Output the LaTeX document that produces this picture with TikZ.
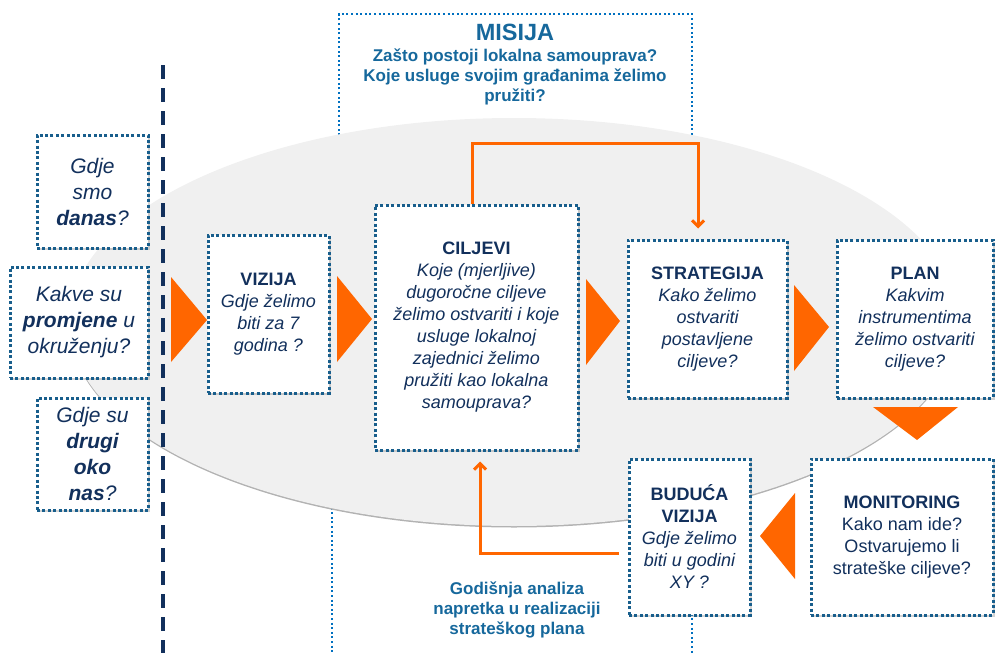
\documentclass[tikz,border=0pt]{standalone}
\usepackage{fontspec}
\setmainfont{Liberation Sans}
\usetikzlibrary{shadows,arrows.meta,calc}
\definecolor{navy}{RGB}{18,48,92}
\definecolor{dotblue}{RGB}{24,94,140}
\definecolor{misblue}{RGB}{0,112,192}
\definecolor{mistext}{RGB}{22,104,156}
\definecolor{orng}{RGB}{255,102,0}
\definecolor{ellgray}{RGB}{240,240,240}
\begin{document}
\begin{tikzpicture}[x=1pt,y=-1pt,
  qbox/.style={draw=dotblue, line width=3pt, dash pattern=on 3pt off 2.4pt,
    fill=white, align=center, text=navy, inner sep=1pt,
    font=\fontsize{18}{22}\selectfont,
    drop shadow={shadow xshift=1.5pt, shadow yshift=-2pt, opacity=0.35}},
  lbox/.style={qbox, font=\fontsize{21}{26}\selectfont\itshape},
  misframe/.style={draw=misblue, line width=2pt, dash pattern=on 2pt off 2.6pt},
  conn/.style={draw=orng, line width=3pt, -{Straight Barb[length=6pt,width=12pt]}},
  tri/.style={fill=orng},
  ttl/.style={text=mistext, font=\bfseries, align=center}
]
\useasboundingbox (0,0) rectangle (995,653);

% mission frame
\draw[misframe] (339,140) -- (339,14) -- (692,14) -- (692,140);
\draw[misframe] (332,480) -- (332,653);
\draw[misframe] (692,600) -- (692,653);

% background ellipse
\fill[black!30] (514,323.5) ellipse [x radius=445, y radius=204];
\fill[ellgray] (514,322) ellipse [x radius=445, y radius=204];

% mission text
\node[ttl, font=\fontsize{23.5}{26}\selectfont\bfseries] (mis) at (515,32) {MISIJA};
\node[ttl, font=\fontsize{17}{20}\selectfont\bfseries] (mist) at (515,77)
  {Zašto postoji lokalna samouprava?\\Koje usluge svojim građanima želimo\\pružiti?};

% dashed divider
\coordinate (dtop) at (163,65);
\coordinate (dbot) at (163,653);
\draw[navy, line width=3.2pt, dash pattern=on 14pt off 9pt] (dtop) -- (dbot);

% left question boxes
\node[lbox, minimum width=111, minimum height=113] (smo) at (92.5,191.5)
  {Gdje\\smo\\\textbf{danas}?};
\node[lbox, minimum width=138, minimum height=111] (kak) at (79,322.5)
  {Kakve su\\\textbf{promjene} u\\okruženju?};
\node[lbox, minimum width=111, minimum height=112] (dru) at (92.5,454)
  {Gdje su\\\textbf{drugi}\\\textbf{oko}\\\textbf{nas}?};

% main boxes
\node[qbox, minimum width=121, minimum height=158] (viz) at (268.5,314)
  {\textbf{VIZIJA}\\\itshape Gdje želimo\\\itshape biti za 7\\\itshape godina ?};
\node[qbox, minimum width=203, minimum height=245] (cil) at (476.5,327.5)
  {\textbf{CILJEVI}\\\itshape Koje (mjerljive)\\\itshape dugoročne ciljeve\\\itshape želimo ostvariti i koje\\\itshape usluge lokalnoj\\\itshape zajednici želimo\\\itshape pružiti kao lokalna\\\itshape samouprava?};
\node[qbox, minimum width=159, minimum height=158] (str) at (707.5,319)
  {\textbf{STRATEGIJA}\\\itshape Kako želimo\\\itshape ostvariti\\\itshape postavljene\\\itshape ciljeve?};
\node[qbox, minimum width=156, minimum height=158] (pla) at (915,319)
  {\textbf{PLAN}\\\itshape Kakvim\\\itshape instrumentima\\\itshape želimo ostvariti\\\itshape ciljeve?};
\node[qbox, minimum width=121, minimum height=156] (bud) at (689.5,537)
  {\textbf{BUDUĆA}\\\textbf{VIZIJA}\\\itshape Gdje želimo\\\itshape biti u godini\\\itshape XY ?};
\node[qbox, minimum width=182, minimum height=156] (mon) at (902,537)
  {\textbf{MONITORING}\\Kako nam ide?\\Ostvarujemo li\\strateške ciljeve?};

% orange triangles
\fill[tri] (171,277) -- (171,362) -- (207,320) -- cycle;
\fill[tri] (337,276) -- (337,362) -- (372,319) -- cycle;
\fill[tri] (586,279) -- (586,365) -- (620,321) -- cycle;
\fill[tri] (794,285) -- (794,371) -- (829,327) -- cycle;
\fill[tri] (873,407) -- (958,407) -- (917,440) -- cycle;
\fill[tri] (795,493) -- (795,579) -- (760,536) -- cycle;

% connectors
\draw[conn] ([xshift=-4pt]cil.north) -- ++(0,-60) -| ([xshift=-9.5pt,yshift=10pt]str.north);
\draw[conn] ([xshift=-9pt,yshift=-16pt]bud.west) -| ([xshift=3.5pt,yshift=-10pt]cil.south);

% annual analysis note
\node[ttl, font=\fontsize{17}{20}\selectfont\bfseries] (god) at (517,610)
  {Godišnja analiza\\napretka u realizaciji\\strateškog plana};
\end{tikzpicture}
\end{document}
